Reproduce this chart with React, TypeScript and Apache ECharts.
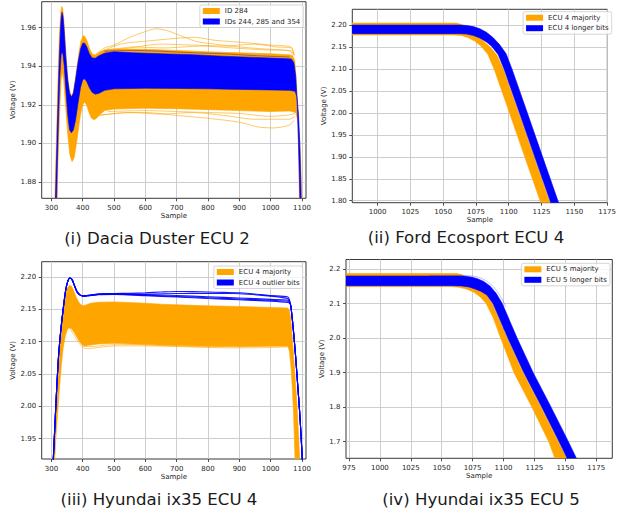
import React, { useEffect, useRef } from "react";
import * as echarts from "echarts";

type Pt = [number, number];

const ORANGE = "#FFA500";
const BLUE = "#0000FF";
const FONT = "DejaVu Sans";
const TXT = "#262626";

// ---------- (i) Dacia Duster ECU 2 ----------
const p1XTicks = [300, 400, 500, 600, 700, 800, 900, 1000, 1100];
const p1YTicks = [1.88, 1.9, 1.92, 1.94, 1.96];
const p1OrangeUpper: Pt[] = [[309,1.86],[314,1.89],[318,1.915],[322,1.94],[326,1.958],[330,1.968],[333,1.971],[336,1.97],[340,1.963],[345,1.95],[351,1.936],[357,1.928],[364,1.9245],[371,1.927],[378,1.935],[386,1.945],[394,1.953],[401,1.9558],[407,1.9555],[414,1.953],[422,1.949],[431,1.9462],[440,1.9458],[452,1.947],[470,1.9485],[500,1.949],[600,1.9488],[700,1.9482],[800,1.9475],[900,1.947],[1000,1.9465],[1060,1.946],[1070,1.9455],[1077,1.943],[1083,1.93],[1087,1.91],[1090,1.89],[1093,1.86]];
const p1OrangeLower: Pt[] = [[317,1.86],[321,1.89],[326,1.915],[331,1.933],[335,1.937],[339,1.933],[345,1.92],[352,1.905],[359,1.894],[366,1.8905],[373,1.8928],[381,1.901],[390,1.912],[398,1.919],[405,1.9215],[412,1.92],[420,1.916],[428,1.913],[437,1.9122],[445,1.9132],[455,1.915],[470,1.917],[500,1.9178],[600,1.9182],[700,1.918],[800,1.9175],[900,1.917],[1000,1.9165],[1060,1.9168],[1080,1.916],[1086,1.912],[1091,1.905],[1095,1.895],[1098,1.88],[1101,1.86]];
const p1BlueUpper: Pt[] = [[311,1.86],[316,1.89],[320,1.915],[324,1.938],[328,1.956],[331,1.965],[334,1.968],[337,1.966],[341,1.958],[346,1.945],[352,1.933],[358,1.926],[364,1.924],[370,1.926],[377,1.933],[385,1.942],[393,1.949],[400,1.952],[406,1.952],[413,1.95],[421,1.9465],[430,1.9443],[440,1.9442],[452,1.9455],[470,1.9468],[500,1.9475],[560,1.947],[650,1.9465],[750,1.946],[850,1.9452],[950,1.9446],[1040,1.944],[1066,1.9438],[1074,1.942],[1080,1.935],[1085,1.92],[1089,1.9],[1092,1.88],[1095,1.86]];
const p1BlueLower: Pt[] = [[315,1.86],[319,1.89],[323,1.915],[327,1.935],[331,1.946],[334,1.9475],[337,1.946],[341,1.94],[346,1.928],[352,1.915],[358,1.907],[364,1.9055],[370,1.907],[377,1.912],[385,1.921],[393,1.929],[400,1.933],[406,1.9335],[413,1.932],[421,1.929],[430,1.9265],[440,1.9255],[452,1.926],[470,1.9275],[500,1.9283],[600,1.9286],[700,1.9285],[800,1.9283],[900,1.928],[1000,1.9277],[1060,1.9275],[1078,1.927],[1084,1.924],[1089,1.915],[1093,1.9],[1096,1.88],[1099,1.86]];
const p1OrangeHigh1: Pt[] = [[440,1.946],[470,1.9495],[500,1.951],[550,1.955],[600,1.958],[635,1.9595],[670,1.9585],[710,1.956],[760,1.953],[820,1.9515],[900,1.95],[980,1.949],[1060,1.948],[1072,1.946]];
const p1OrangeHigh2: Pt[] = [[450,1.947],[520,1.9515],[600,1.953],[700,1.9545],[760,1.955],[820,1.9535],[900,1.9525],[1000,1.951],[1065,1.95],[1074,1.946]];
const p1OrangeHigh3: Pt[] = [[460,1.9475],[550,1.9495],[650,1.9515],[750,1.951],[850,1.9505],[950,1.9515],[1020,1.95],[1066,1.9495],[1075,1.946]];
const p1OrangeHigh4: Pt[] = [[470,1.948],[560,1.95],[660,1.9495],[780,1.9505],[880,1.9495],[980,1.9485],[1066,1.948],[1075,1.9455]];
const p1OrangeLow1: Pt[] = [[450,1.9145],[520,1.9158],[600,1.916],[700,1.9145],[800,1.913],[900,1.911],[960,1.9085],[1010,1.908],[1060,1.9095],[1075,1.912]];
const p1OrangeLow2: Pt[] = [[450,1.9145],[550,1.916],[650,1.9152],[750,1.916],[850,1.9145],[950,1.9125],[1060,1.9125],[1078,1.914]];
const p1OrangeLow3: Pt[] = [[480,1.9165],[600,1.917],[700,1.9165],[800,1.916],[900,1.9155],[1000,1.914],[1060,1.9148],[1078,1.9155]];
const p1BlueHigh: Pt[] = [[470,1.9478],[560,1.9482],[650,1.9478],[750,1.947],[850,1.9465],[950,1.9455],[1060,1.9448]];

// ---------- (ii) Ford Ecosport ECU 4 ----------
const p2XTicks = [1000, 1025, 1050, 1075, 1100, 1125, 1150, 1175];
const p2YTicks = [1.8, 1.85, 1.9, 1.95, 2.0, 2.05, 2.1, 2.15, 2.2];
const p2OrangeUpper: Pt[] = [[975,2.205],[1060,2.205],[1066,2.2],[1071,2.19],[1076,2.177],[1081,2.163],[1086,2.15],[1091,2.132],[1095.9,2.1],[1107.6,2.0],[1119.2,1.9],[1130.9,1.8],[1132.6,1.785]];
const p2OrangeLower: Pt[] = [[975,2.178],[1058,2.178],[1064,2.1765],[1069,2.172],[1074,2.164],[1079,2.152],[1084,2.134],[1088.9,2.1],[1100.6,2.0],[1112.2,1.9],[1123.9,1.8],[1125.6,1.785]];
const p2BlueUpper: Pt[] = [[975,2.2005],[1062,2.2005],[1068,2.1995],[1073,2.197],[1078,2.192],[1083,2.184],[1088,2.172],[1093,2.156],[1098,2.135],[1102.5,2.1],[1114.2,2.0],[1125.8,1.9],[1137.5,1.8],[1139.3,1.785]];
const p2BlueLower: Pt[] = [[975,2.181],[1062,2.181],[1068,2.18],[1073,2.177],[1078,2.171],[1083,2.162],[1087,2.152],[1092,2.133],[1096.5,2.1],[1108.2,2.0],[1119.8,1.9],[1131.5,1.8],[1133.3,1.785]];

// ---------- (iii) Hyundai ix35 ECU 4 ----------
const p3XTicks = [300, 400, 500, 600, 700, 800, 900, 1000, 1100];
const p3YTicks = [1.95, 2.0, 2.05, 2.1, 2.15, 2.2];
const p3OrangeUpper: Pt[] = [[303,1.9],[309,1.945],[315,1.995],[321,2.045],[327,2.09],[333,2.125],[339,2.153],[345,2.173],[351,2.183],[358,2.1872],[364,2.186],[370,2.18],[378,2.17],[386,2.162],[394,2.157],[402,2.1555],[412,2.157],[425,2.1595],[450,2.161],[500,2.1615],[550,2.1605],[600,2.1595],[650,2.158],[700,2.157],[800,2.1555],[900,2.1545],[1000,2.153],[1055,2.152],[1060,2.148],[1064,2.135],[1068,2.113],[1073,2.08],[1078,2.045],[1084,2.003],[1089,1.955],[1093,1.918],[1095,1.9]];
const p3OrangeLower: Pt[] = [[309,1.9],[314,1.95],[320,1.99],[326,2.03],[332,2.065],[338,2.092],[345,2.11],[352,2.12],[358,2.1215],[365,2.12],[375,2.113],[385,2.104],[395,2.097],[405,2.0935],[420,2.0945],[450,2.0965],[500,2.0975],[600,2.0955],[700,2.094],[800,2.093],[900,2.092],[1000,2.093],[1055,2.093],[1060,2.085],[1065,2.06],[1069,2.03],[1073,1.99],[1077,1.93],[1079,1.9]];
const p3OrangeLow1: Pt[] = [[358,2.121],[380,2.104],[400,2.091],[420,2.0895],[450,2.091],[500,2.0935],[600,2.0935],[700,2.0925],[800,2.091],[900,2.0905],[1000,2.091],[1055,2.092]];
const p3OrangeLow2: Pt[] = [[362,2.122],[385,2.105],[405,2.0925],[430,2.0925],[480,2.095],[560,2.0955],[650,2.094],[750,2.0925],[850,2.092]];
const p3BlueRise: Pt[] = [[301,1.88],[306,1.918],[314,2.0],[322,2.072],[330,2.118],[338,2.152],[345,2.178],[352,2.193],[359,2.1985],[366,2.196],[374,2.186],[382,2.177],[392,2.172]];
const p3BlueDrop: Pt[] = [[1063,2.158],[1068,2.14],[1074,2.11],[1080,2.075],[1086,2.035],[1092,1.995],[1097,1.955],[1101,1.918],[1104,1.89]];
const p3BluePlateau1: Pt[] = [[402,2.1712],[450,2.1738],[500,2.1745],[550,2.175],[600,2.1758],[650,2.1768],[700,2.1776],[750,2.1774],[800,2.1768],[850,2.1762],[900,2.1756],[950,2.1738],[1000,2.1712],[1055,2.169]];
const p3BluePlateau2: Pt[] = [[402,2.1708],[450,2.1735],[500,2.1745],[600,2.1738],[700,2.1745],[800,2.1748],[900,2.1742],[1000,2.1705],[1055,2.1665]];
const p3BluePlateau3: Pt[] = [[402,2.1705],[450,2.173],[500,2.1735],[600,2.172],[700,2.17],[800,2.168],[900,2.166],[1000,2.164],[1055,2.1625]];
const p3BluePlateau4: Pt[] = [[402,2.1702],[450,2.1725],[500,2.173],[600,2.1712],[700,2.169],[800,2.1668],[900,2.1648],[1000,2.1628],[1055,2.1605]];
const p3BluePlateau5: Pt[] = [[402,2.171],[450,2.1732],[500,2.174],[600,2.173],[700,2.1715],[800,2.1695],[900,2.1675],[1000,2.1655],[1055,2.164]];

// ---------- (iv) Hyundai ix35 ECU 5 ----------
const p4XTicks = [975, 1000, 1025, 1050, 1075, 1100, 1125, 1150, 1175];
const p4YTicks = [1.7, 1.8, 1.9, 2.0, 2.1, 2.2];
const p4OrangeUpper: Pt[] = [[970,2.187],[1062,2.187],[1066,2.184],[1070,2.177],[1075,2.166],[1080,2.151],[1085,2.132],[1090.9,2.1],[1102.9,2.0],[1115.9,1.9],[1130.4,1.8],[1144.4,1.7],[1151.4,1.648],[1152.4,1.64]];
const p4OrangeLower: Pt[] = [[970,2.149],[1058,2.149],[1064,2.147],[1070,2.142],[1076,2.133],[1081,2.12],[1086,2.1],[1091.5,2.06],[1097.7,2.0],[1108.5,1.9],[1123,1.8],[1136.6,1.7],[1142,1.648],[1143,1.64]];
const p4BlueUpper: Pt[] = [[970,2.1797],[1064,2.1797],[1069,2.179],[1074,2.1765],[1079,2.172],[1084,2.164],[1089,2.151],[1094,2.13],[1099,2.1],[1111,2.0],[1124,1.9],[1138.5,1.8],[1152.5,1.7],[1159.5,1.648],[1160.5,1.64]];
const p4BlueLower: Pt[] = [[970,2.1516],[1058,2.1516],[1066,2.151],[1072,2.148],[1077,2.142],[1082,2.135],[1086.5,2.125],[1091.5,2.1],[1103.5,2.0],[1116.5,1.9],[1131,1.8],[1145,1.7],[1152,1.648],[1153,1.64]];
const p4BlueFaint: Pt[] = [[1040,2.1815],[1066,2.1815],[1074,2.18],[1080,2.176],[1086,2.166],[1092,2.148],[1098,2.118],[1102,2.09]];

const captions = ["(i) Dacia Duster ECU 2", "(ii) Ford Ecosport ECU 4", "(iii) Hyundai ix35 ECU 4", "(iv) Hyundai ix35 ECU 5"];
const legendLabels = [
  ["ID 284", "IDs 244, 285 and 354"],
  ["ECU 4 majority", "ECU 4 longer bits"],
  ["ECU 4 majority", "ECU 4 outlier bits"],
  ["ECU 5 majority", "ECU 5 longer bits"],
];

// ---------- layout (pixels) ----------
const grids = [
  { left: 41.7, top: 1.7, width: 264.3, height: 196.6 },
  { left: 352.3, top: 9.3, width: 260.4, height: 193.4 },
  { left: 41.7, top: 261.7, width: 264.3, height: 197.3 },
  { left: 346, top: 259.5, width: 266.3, height: 198.8 },
];
const xRanges: Pt[] = [[269, 1112.8], [980.7, 1175.2], [269, 1112.8], [972.6, 1188]];
const yRanges: Pt[] = [[1.8715, 1.9735], [1.7955, 2.2365], [1.9186, 2.2237], [1.652, 2.2275]];
const xTickSets = [p1XTicks, p2XTicks, p3XTicks, p4XTicks];
const yTickSets = [p1YTicks, p2YTicks, p3YTicks, p4YTicks];
const xSteps = [100, 25, 100, 25];
const ySteps = [0.02, 0.05, 0.05, 0.1];
const yDecimals = [2, 2, 2, 1];
const yNameGaps = [25, 25, 25, 20];
const legendPos = [
  { right: 315.7, top: 5 },
  { right: 7.3, top: 11.7 },
  { right: 316.3, top: 266 },
  { right: 9, top: 263.3 },
];
const captionPos: Pt[] = [[157, 238], [466, 237], [159, 499], [481, 499]];

function band(name: string, upper: Pt[], lower: Pt[], color: string, idx: number) {
  const poly: Pt[] = upper.concat(lower.slice().reverse());
  return {
    type: "custom",
    name,
    xAxisIndex: idx,
    yAxisIndex: idx,
    clip: true,
    silent: true,
    color,
    itemStyle: { color },
    data: [poly[0]],
    renderItem: (_params: any, api: any) => ({
      type: "polygon",
      shape: { points: poly.map((p) => api.coord(p)) },
      style: { fill: color, stroke: color, lineWidth: 0.6 },
    }),
  };
}

function trace(name: string, pts: Pt[], color: string, idx: number, width: number, opacity: number) {
  return {
    type: "line",
    name,
    xAxisIndex: idx,
    yAxisIndex: idx,
    data: pts,
    showSymbol: false,
    smooth: 0.25,
    silent: true,
    color,
    clip: true,
    lineStyle: { color, width, opacity },
  };
}

export default function App() {
  const ref = useRef<HTMLDivElement>(null);
  useEffect(() => {
    if (!ref.current) return;
    const chart = echarts.init(ref.current, undefined, { renderer: "svg" });

    const xAxis = grids.map((_, i) => ({
      type: "value",
      gridIndex: i,
      min: xRanges[i][0],
      max: xRanges[i][1],
      minInterval: xSteps[i],
      maxInterval: xSteps[i],
      axisLine: { show: false },
      axisTick: { show: true, length: 3, lineStyle: { color: TXT, width: 0.8 }, customValues: xTickSets[i] },
      axisLabel: {
        customValues: xTickSets[i],
        fontSize: 7,
        fontFamily: FONT,
        color: TXT,
        margin: 6,
        formatter: (v: number) => String(Math.round(v)),
      },
      splitLine: { show: true, lineStyle: { color: "#c8c8c8", width: 0.9 } },
      name: "Sample",
      nameLocation: "middle",
      nameGap: 14,
      nameTextStyle: { fontSize: 7, fontFamily: FONT, color: TXT },
    }));
    const yAxis = grids.map((_, i) => ({
      type: "value",
      gridIndex: i,
      min: yRanges[i][0],
      max: yRanges[i][1],
      minInterval: ySteps[i],
      maxInterval: ySteps[i],
      axisLine: { show: false },
      axisTick: { show: true, length: 3, lineStyle: { color: TXT, width: 0.8 }, customValues: yTickSets[i] },
      axisLabel: {
        customValues: yTickSets[i],
        fontSize: 7,
        fontFamily: FONT,
        color: TXT,
        margin: 5.5,
        formatter: (v: number) => v.toFixed(yDecimals[i]),
      },
      splitLine: { show: true, lineStyle: { color: "#c8c8c8", width: 0.9 } },
      name: "Voltage (V)",
      nameLocation: "middle",
      nameGap: yNameGaps[i],
      nameTextStyle: { fontSize: 7, fontFamily: FONT, color: TXT },
    }));

    const series: any[] = [
      // (i)
      band(legendLabels[0][0], p1OrangeUpper, p1OrangeLower, ORANGE, 0),
      ...[p1OrangeHigh1, p1OrangeHigh2, p1OrangeHigh3, p1OrangeHigh4, p1OrangeLow1, p1OrangeLow2, p1OrangeLow3].map((t) =>
        trace(legendLabels[0][0], t, ORANGE, 0, 0.8, 0.75)
      ),
      band(legendLabels[0][1], p1BlueUpper, p1BlueLower, BLUE, 0),
      trace(legendLabels[0][1], p1BlueHigh, BLUE, 0, 0.7, 0.6),
      // (ii)
      band(legendLabels[1][0], p2OrangeUpper, p2OrangeLower, ORANGE, 1),
      band(legendLabels[1][1], p2BlueUpper, p2BlueLower, BLUE, 1),
      // (iii)
      band(legendLabels[2][0], p3OrangeUpper, p3OrangeLower, ORANGE, 2),
      trace(legendLabels[2][0], p3OrangeLow1, ORANGE, 2, 0.8, 0.7),
      trace(legendLabels[2][0], p3OrangeLow2, ORANGE, 2, 0.8, 0.7),
      ...[p3BluePlateau1, p3BluePlateau2, p3BluePlateau3, p3BluePlateau4, p3BluePlateau5].map((pl) =>
        trace(legendLabels[2][1], p3BlueRise.concat(pl, p3BlueDrop), BLUE, 2, 1.1, 0.9)
      ),
      // (iv)
      band(legendLabels[3][0], p4OrangeUpper, p4OrangeLower, ORANGE, 3),
      band(legendLabels[3][1], p4BlueUpper, p4BlueLower, BLUE, 3),
      trace(legendLabels[3][1], p4BlueFaint, BLUE, 3, 0.7, 0.35),
    ];

    const legend = legendLabels.map((labels, i) => ({
      ...legendPos[i],
      orient: "vertical",
      data: labels.map((n) => ({ name: n, icon: "rect" })),
      itemWidth: 17,
      itemHeight: 6,
      itemGap: 3.5,
      selectedMode: false,
      padding: [2.5, 3, 2.5, 3],
      borderColor: "#cccccc",
      borderWidth: 0.8,
      borderRadius: 2,
      backgroundColor: "rgba(255,255,255,0.8)",
      textStyle: { fontSize: 7, fontFamily: FONT, color: TXT },
    }));

    chart.setOption({
      animation: false,
      grid: grids.map((g) => ({ ...g, show: true, borderColor: "#222", borderWidth: 0.9, backgroundColor: "transparent" })),
      xAxis,
      yAxis,
      legend,
      series,
      graphic: captions.map((c, i) => ({
        type: "text",
        x: captionPos[i][0],
        y: captionPos[i][1],
        style: {
          text: c,
          fontSize: 16.6,
          fontFamily: FONT,
          fill: "#1a1a1a",
          textAlign: "center",
          textVerticalAlign: "middle",
        },
      })),
    });
    return () => chart.dispose();
  }, []);
  return (
    <div
      ref={ref}
      style={{ position: "fixed", left: 0, top: 0, width: 619, height: 517, background: "#fff" }}
    />
  );
}
